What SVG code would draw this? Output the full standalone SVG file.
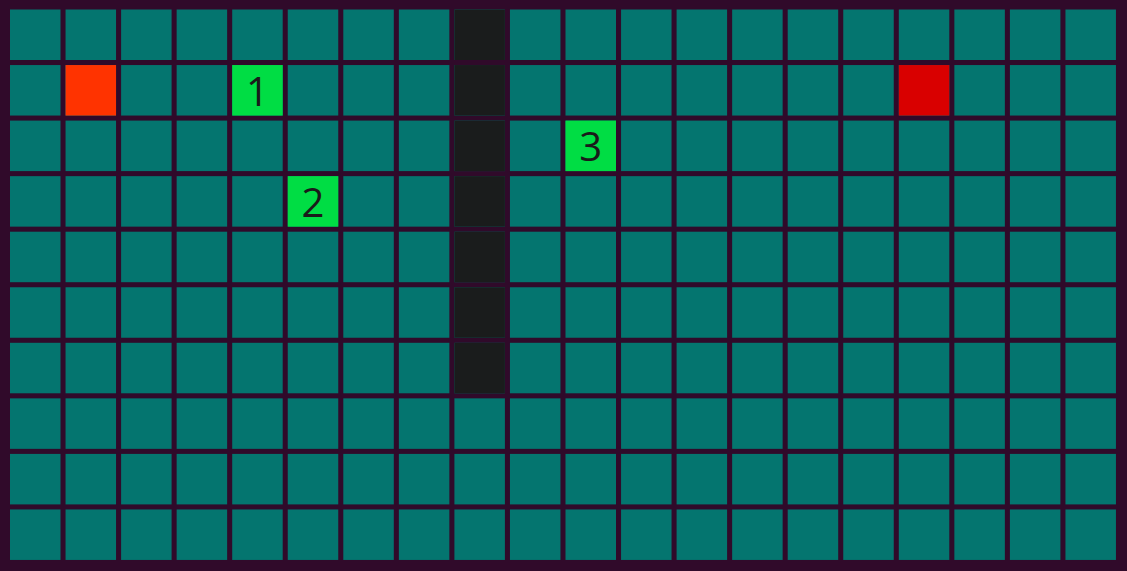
<svg xmlns="http://www.w3.org/2000/svg" width="1127" height="571" viewBox="0 0 1127 571">
<style>
.c{fill:#04756f}
.w{fill:#1a1c1c}
.s{fill:#ff3300}
.e{fill:#d90000}
.g{fill:#00dd44}
.t{font-family:"Open Sans",sans-serif;font-size:40px;fill:#1a1a1a;text-anchor:middle}
</style>
<rect width="1127" height="571" fill="#300a2a"/>
<defs>
<g id="row">
<rect class="c" x="10" y="0" width="50.5" height="50.5"/>
<rect class="c" x="65.55" y="0" width="50.5" height="50.5"/>
<rect class="c" x="121.1" y="0" width="50.5" height="50.5"/>
<rect class="c" x="176.65" y="0" width="50.5" height="50.5"/>
<rect class="c" x="232.2" y="0" width="50.5" height="50.5"/>
<rect class="c" x="287.75" y="0" width="50.5" height="50.5"/>
<rect class="c" x="343.3" y="0" width="50.5" height="50.5"/>
<rect class="c" x="398.85" y="0" width="50.5" height="50.5"/>
<rect class="c" x="454.4" y="0" width="50.5" height="50.5"/>
<rect class="c" x="509.95" y="0" width="50.5" height="50.5"/>
<rect class="c" x="565.5" y="0" width="50.5" height="50.5"/>
<rect class="c" x="621.05" y="0" width="50.5" height="50.5"/>
<rect class="c" x="676.6" y="0" width="50.5" height="50.5"/>
<rect class="c" x="732.15" y="0" width="50.5" height="50.5"/>
<rect class="c" x="787.7" y="0" width="50.5" height="50.5"/>
<rect class="c" x="843.25" y="0" width="50.5" height="50.5"/>
<rect class="c" x="898.8" y="0" width="50.5" height="50.5"/>
<rect class="c" x="954.35" y="0" width="50.5" height="50.5"/>
<rect class="c" x="1009.9" y="0" width="50.5" height="50.5"/>
<rect class="c" x="1065.45" y="0" width="50.5" height="50.5"/>
</g>
</defs>
<g id="grid">
<use href="#row" y="9.5"/>
<use href="#row" y="65.05"/>
<use href="#row" y="120.6"/>
<use href="#row" y="176.15"/>
<use href="#row" y="231.7"/>
<use href="#row" y="287.25"/>
<use href="#row" y="342.8"/>
<use href="#row" y="398.35"/>
<use href="#row" y="453.9"/>
<use href="#row" y="509.45"/>
</g>
<g id="wall">
<rect class="w" x="454.4" y="9.5" width="50.5" height="50.5"/>
<rect class="w" x="454.4" y="65.05" width="50.5" height="50.5"/>
<rect class="w" x="454.4" y="120.6" width="50.5" height="50.5"/>
<rect class="w" x="454.4" y="176.15" width="50.5" height="50.5"/>
<rect class="w" x="454.4" y="231.7" width="50.5" height="50.5"/>
<rect class="w" x="454.4" y="287.25" width="50.5" height="50.5"/>
<rect class="w" x="454.4" y="342.8" width="50.5" height="50.5"/>
</g>
<g id="start"><rect class="s" x="65.55" y="65.05" width="50.5" height="50.5"/></g>
<g id="end"><rect class="e" x="898.8" y="65.05" width="50.5" height="50.5"/></g>
<g id="n1"><rect class="g" x="232.2" y="65.05" width="50.5" height="50.5"/><text class="t" x="257.45" y="105.6">1</text></g>
<g id="n2"><rect class="g" x="287.75" y="176.15" width="50.5" height="50.5"/><text class="t" x="313" y="216.7">2</text></g>
<g id="n3"><rect class="g" x="565.5" y="120.6" width="50.5" height="50.5"/><text class="t" x="590.75" y="161.15">3</text></g>
</svg>
